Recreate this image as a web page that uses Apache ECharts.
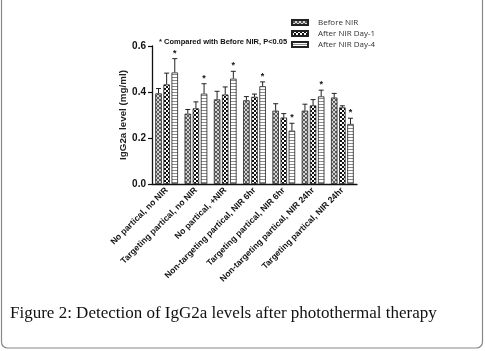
<!DOCTYPE html>
<html>
<head>
<meta charset="utf-8">
<script src="https://cdn.jsdelivr.net/npm/echarts@6/dist/echarts.min.js"></script>
<style>
  html, body { margin: 0; padding: 0; background: #fff; }
  #main { width: 485px; height: 351px; }
</style>
</head>
<body>
<div id="main"></div>
<script>
// groups along the x axis
const categories = [
  'No partical, no NIR',
  'Targeting partical, no NIR',
  'No partical, +NIR',
  'Non-targeting partical, NIR 6hr',
  'Targeting partical, NIR 6hr',
  'Non-targeting partical, NIR 24hr',
  'Targeting partical, NIR 24hr'
];
const seriesNames = ['Before NIR', 'After NIR Day-1', 'After NIR Day-4'];

// mean values (mg/ml)
const beforeNIR = [0.394, 0.306, 0.368, 0.364, 0.319, 0.319, 0.376];
const afterDay1 = [0.433, 0.329, 0.389, 0.379, 0.289, 0.342, 0.333];
const afterDay4 = [0.485, 0.393, 0.458, 0.425, 0.232, 0.381, 0.261];

// top of the error bars
const beforeErr = [0.415, 0.324, 0.403, 0.380, 0.349, 0.347, 0.394];
const day1Err = [0.482, 0.357, 0.422, 0.391, 0.306, 0.367, 0.340];
const day4Err = [0.545, 0.436, 0.490, 0.444, 0.264, 0.408, 0.286];

// which day-4 bars get the significance star
const starred = [1, 1, 1, 1, 1, 1, 1];

const yTicks = [0, 0.2, 0.4, 0.6];

const BAR_W = 6.5;
const BAR_GAP = 0.25;

function makeTile(w, h, draw) {
  const c = document.createElement('canvas');
  c.width = w; c.height = h;
  draw(c.getContext('2d'));
  return { image: c, repeat: 'repeat' };
}

// cross hatch, grey look
const hatch = makeTile(4, 4, ctx => {
  ctx.fillStyle = '#d4d4d4';
  ctx.fillRect(0, 0, 4, 4);
  ctx.fillStyle = '#5a5a5a';
  ctx.fillRect(0, 0, 1, 1); ctx.fillRect(1, 1, 1, 1); ctx.fillRect(2, 2, 1, 1); ctx.fillRect(3, 3, 1, 1);
  ctx.fillRect(3, 0, 1, 1); ctx.fillRect(2, 1, 1, 1); ctx.fillRect(1, 2, 1, 1); ctx.fillRect(0, 3, 1, 1);
});
// checkerboard
const checker = makeTile(4, 4, ctx => {
  ctx.fillStyle = '#fff';
  ctx.fillRect(0, 0, 4, 4);
  ctx.fillStyle = '#111';
  ctx.fillRect(0, 0, 2, 2);
  ctx.fillRect(2, 2, 2, 2);
});
// horizontal stripes
const stripes = makeTile(4, 3, ctx => {
  ctx.fillStyle = '#fff';
  ctx.fillRect(0, 0, 4, 3);
  ctx.fillStyle = '#8a8a8a';
  ctx.fillRect(0, 2, 4, 1);
});

const fills = [hatch, checker, stripes];
const means = [beforeNIR, afterDay1, afterDay4];
const errs = [beforeErr, day1Err, day4Err];

const chart = echarts.init(document.getElementById('main'));

const barSeries = seriesNames.map((name, i) => ({
  name: name,
  type: 'bar',
  barWidth: BAR_W,
  barGap: (BAR_GAP * 100) + '%',
  data: means[i],
  itemStyle: { color: fills[i], borderColor: '#222', borderWidth: 0.8 },
  animation: false
}));

const errSeries = seriesNames.map((name, i) => ({
  name: name + ' err',
  type: 'custom',
  data: categories.map((c, k) => [k, means[i][k], errs[i][k], i === 2 ? starred[k] : 0]),
  renderItem: function (params, api) {
    const k = api.value(0);
    const off = (i - 1) * BAR_W * (1 + BAR_GAP);
    const top = api.coord([k, api.value(2)]);
    const base = api.coord([k, api.value(1)]);
    const x = top[0] + off;
    const children = [
      { type: 'line', shape: { x1: x, y1: base[1], x2: x, y2: top[1] }, style: { stroke: '#222', lineWidth: 1 } },
      { type: 'line', shape: { x1: x - 2.5, y1: top[1], x2: x + 2.5, y2: top[1] }, style: { stroke: '#222', lineWidth: 1 } }
    ];
    if (api.value(3)) {
      children.push({
        type: 'text',
        style: { x: x, y: top[1] - 1, text: '*', fill: '#111', font: 'bold 9px "Liberation Sans", Arial', textAlign: 'center', textVerticalAlign: 'bottom' }
      });
    }
    return { type: 'group', children: children };
  },
  z: 3,
  animation: false
}));

chart.setOption({
  animation: false,
  grid: { left: 152, right: 128, top: 46, bottom: 167, containLabel: false },
  legend: {
    data: seriesNames,
    orient: 'vertical',
    left: 286,
    top: 13,
    itemWidth: 16,
    itemHeight: 5,
    itemGap: 2,
    icon: 'rect',
    textStyle: { fontSize: 8, lineHeight: 9, color: '#333', fontFamily: '"Open Sans", "Liberation Sans", sans-serif', padding: [0, 0, 0, 5] }
  },
  xAxis: {
    type: 'category',
    data: categories,
    axisLine: { lineStyle: { color: '#111', width: 1.3 } },
    axisTick: { alignWithLabel: true, length: 4, lineStyle: { color: '#111', width: 1.2 } },
    axisLabel: {
      rotate: 45,
      interval: 0,
      margin: 5,
      fontSize: 8.6,
      fontWeight: 'bold',
      color: '#111',
      fontFamily: '"Liberation Sans", Arial, sans-serif'
    }
  },
  yAxis: {
    type: 'value',
    min: yTicks[0],
    max: yTicks[yTicks.length - 1],
    interval: 0.2,
    name: 'IgG2a level (mg/ml)',
    nameLocation: 'middle',
    nameGap: 15,
    nameTextStyle: { fontSize: 9.8, fontWeight: 'bold', color: '#222', fontFamily: '"Liberation Sans", Arial, sans-serif' },
    splitLine: { show: false },
    axisLine: { show: true, lineStyle: { color: '#111', width: 1.3 } },
    axisTick: { show: true, length: 4, lineStyle: { color: '#111', width: 1.2 } },
    axisLabel: {
      margin: 6,
      fontSize: 10,
      fontWeight: 'bold',
      color: '#111',
      fontFamily: '"Liberation Sans", Arial, sans-serif',
      formatter: v => v.toFixed(1)
    }
  },
  graphic: [
    {
      type: 'text',
      left: 159,
      top: 38,
      style: { text: '* Compared with Before NIR, P<0.05', font: 'bold 7.5px "Liberation Sans", Arial, sans-serif', fill: '#111' }
    },
    {
      type: 'text',
      left: 10,
      top: 305,
      style: { text: 'Figure 2: Detection of IgG2a levels after photothermal therapy', font: '17px "Liberation Serif", "DejaVu Serif", serif', fill: '#111' }
    },
    {
      type: 'rect',
      shape: { x: 1.5, y: -20, width: 481, height: 368, r: 6 },
      style: { fill: 'none', stroke: '#888', lineWidth: 1.2 },
      silent: true
    }
  ],
  series: barSeries.concat(errSeries)
});
</script>
</body>
</html>
